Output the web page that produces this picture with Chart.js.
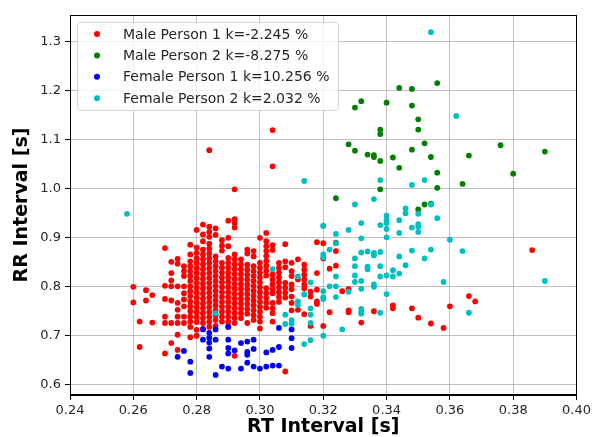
<!DOCTYPE html>
<html>
<head>
<meta charset="utf-8">
<script src="https://cdn.jsdelivr.net/npm/chart.js@4.4.1/dist/chart.umd.min.js"></script>
<style>
  html, body { margin: 0; padding: 0; background: #fff; }
</style>
</head>
<body>
<canvas id="scatterChart" width="594" height="437"></canvas>
<script>
// series labels / colours (matplotlib r, g, b, c)
const seriesLabels = ['Male Person 1 k=-2.245 %', 'Male Person 2 k=-8.275 %', 'Female Person 1 k=10.256 %', 'Female Person 2 k=2.032 %'];
const seriesColors = ['#ff0000', '#008000', '#0000ff', '#00bfbf'];

// axis ticks
const xTicks = [0.24, 0.26, 0.28, 0.30, 0.32, 0.34, 0.36, 0.38, 0.40];
const yTicks = [0.6, 0.7, 0.8, 0.9, 1.0, 1.1, 1.2, 1.3];

// Male person 1: RT column -> RR values
const maleP1Cols = [
  [0.260, [0.800, 0.768]],
  [0.262, [0.729, 0.677]],
  [0.264, [0.793, 0.772]],
  [0.266, [0.783, 0.727]],
  [0.270, [0.879, 0.802, 0.775, 0.739, 0.726, 0.664]],
  [0.272, [0.851, 0.828, 0.813, 0.801, 0.772, 0.726, 0.685]],
  [0.274, [0.857, 0.847, 0.801, 0.767, 0.753, 0.739, 0.726, 0.702, 0.671]],
  [0.276, [0.842, 0.832, 0.822, 0.801, 0.787, 0.774, 0.760, 0.739, 0.726]],
  [0.278, [0.886, 0.866, 0.852, 0.842, 0.832, 0.822, 0.812, 0.801, 0.791, 0.781, 0.770, 0.760, 0.750, 0.739, 0.729, 0.718, 0.697]],
  [0.280, [0.916, 0.880, 0.869, 0.858, 0.848, 0.838, 0.828, 0.818, 0.808, 0.798, 0.788, 0.778, 0.768, 0.758, 0.748, 0.738, 0.728, 0.712, 0.700]],
  [0.282, [0.927, 0.907, 0.893, 0.876, 0.866, 0.856, 0.846, 0.836, 0.826, 0.816, 0.806, 0.796, 0.786, 0.776, 0.766, 0.756, 0.746, 0.736, 0.726, 0.714]],
  [0.284, [1.079, 0.923, 0.912, 0.902, 0.888, 0.878, 0.868, 0.858, 0.848, 0.838, 0.828, 0.818, 0.808, 0.798, 0.788, 0.778, 0.768, 0.758, 0.748, 0.738, 0.728, 0.718]],
  [0.286, [0.919, 0.906, 0.862, 0.852, 0.842, 0.832, 0.822, 0.812, 0.802, 0.792, 0.782, 0.772, 0.762, 0.752, 0.742, 0.732, 0.720]],
  [0.288, [0.895, 0.884, 0.874, 0.849, 0.839, 0.829, 0.819, 0.809, 0.799, 0.789, 0.779, 0.769, 0.759, 0.749, 0.739, 0.729]],
  [0.290, [0.935, 0.900, 0.883, 0.859, 0.849, 0.839, 0.829, 0.819, 0.809, 0.799, 0.789, 0.779, 0.769, 0.759, 0.749, 0.739, 0.729, 0.719]],
  [0.292, [0.999, 0.938, 0.930, 0.921, 0.866, 0.856, 0.846, 0.836, 0.826, 0.816, 0.806, 0.796, 0.786, 0.776, 0.766, 0.756, 0.746, 0.736, 0.726, 0.659]],
  [0.294, [0.856, 0.846, 0.836, 0.826, 0.816, 0.806, 0.796, 0.786, 0.776, 0.766, 0.756, 0.746, 0.736]],
  [0.296, [0.876, 0.868, 0.845, 0.835, 0.825, 0.815, 0.805, 0.795, 0.785, 0.775, 0.765, 0.755, 0.745, 0.726]],
  [0.298, [0.873, 0.862, 0.842, 0.832, 0.822, 0.812, 0.802, 0.792, 0.782, 0.772, 0.762, 0.752, 0.742, 0.732]],
  [0.300, [0.900, 0.849, 0.839, 0.829, 0.819, 0.809, 0.799, 0.789, 0.779, 0.769, 0.759, 0.749, 0.739, 0.729, 0.715]],
  [0.302, [0.910, 0.893, 0.883, 0.873, 0.863, 0.853, 0.843, 0.833, 0.823, 0.797, 0.787, 0.777, 0.767, 0.757]],
  [0.304, [1.120, 1.046, 0.885, 0.875, 0.825, 0.815, 0.805, 0.795, 0.787, 0.767, 0.756, 0.746, 0.729]],
  [0.306, [0.849, 0.839, 0.829, 0.819, 0.809, 0.799, 0.789, 0.779, 0.769]],
  [0.308, [0.887, 0.852, 0.840, 0.808, 0.798, 0.788, 0.778, 0.627]],
  [0.310, [0.849, 0.832, 0.822, 0.805, 0.795, 0.780, 0.767, 0.752]],
  [0.312, [0.856, 0.815, 0.753]],
  [0.314, [0.845, 0.835, 0.825, 0.815, 0.805, 0.797, 0.744]],
  [0.316, [0.790, 0.780, 0.720]],
  [0.318, [0.891, 0.828, 0.794, 0.770, 0.765]],
  [0.320, [0.889, 0.858, 0.720]],
  [0.322, [0.837, 0.748]],
  [0.324, [0.890, 0.873, 0.843]],
  [0.326, [0.791]],
  [0.328, [0.795, 0.752, 0.748]],
  [0.332, [0.727]],
  [0.336, [0.750]],
  [0.342, [0.762, 0.756]],
  [0.348, [0.756]],
  [0.350, [0.737]],
  [0.354, [0.725]],
  [0.358, [0.716]],
  [0.360, [0.760]],
  [0.366, [0.781]],
  [0.368, [0.770]],
  [0.386, [0.875]]
];

// Male person 2: [RT, RR]
const maleP2 = [
  [0.356, 1.216], [0.344, 1.206], [0.348, 1.204], [0.332, 1.179], [0.330, 1.166],
  [0.340, 1.176], [0.348, 1.170], [0.350, 1.142], [0.350, 1.121], [0.338, 1.121],
  [0.338, 1.112], [0.328, 1.091], [0.330, 1.078], [0.334, 1.070], [0.336, 1.069],
  [0.336, 1.065], [0.338, 1.057], [0.342, 1.064], [0.348, 1.080], [0.352, 1.093],
  [0.354, 1.065], [0.344, 1.043], [0.356, 1.033], [0.356, 1.002], [0.338, 0.999],
  [0.364, 1.010], [0.366, 1.068], [0.376, 1.089], [0.390, 1.076], [0.380, 1.031],
  [0.324, 0.981], [0.352, 0.968], [0.354, 0.970], [0.350, 0.958]
];

// Female person 1: [RT, RR]
const femaleP1 = [
  [0.274, 0.657], [0.276, 0.669], [0.278, 0.647], [0.278, 0.624], [0.282, 0.713],
  [0.282, 0.692], [0.284, 0.706], [0.284, 0.696], [0.284, 0.686], [0.284, 0.674],
  [0.284, 0.657], [0.286, 0.713], [0.286, 0.692], [0.286, 0.620], [0.288, 0.637],
  [0.290, 0.718], [0.290, 0.692], [0.290, 0.675], [0.290, 0.664], [0.292, 0.670],
  [0.290, 0.633], [0.294, 0.633], [0.294, 0.685], [0.296, 0.688], [0.296, 0.667],
  [0.296, 0.661], [0.298, 0.692], [0.298, 0.673], [0.296, 0.645], [0.298, 0.637],
  [0.300, 0.633], [0.302, 0.666], [0.302, 0.637], [0.304, 0.671], [0.304, 0.639],
  [0.306, 0.677], [0.306, 0.639], [0.306, 0.716], [0.310, 0.713], [0.310, 0.695],
  [0.310, 0.675]
];

// Female person 2: [RT, RR]
const femaleP2 = [
  [0.354, 1.320], [0.362, 1.149], [0.314, 1.016], [0.338, 1.018], [0.348, 1.008],
  [0.352, 1.018], [0.330, 0.968], [0.336, 0.979], [0.354, 0.968], [0.346, 0.960],
  [0.346, 0.950], [0.350, 0.949], [0.356, 0.940], [0.340, 0.945], [0.340, 0.936],
  [0.340, 0.930], [0.340, 0.918], [0.344, 0.936], [0.332, 0.930], [0.338, 0.926],
  [0.320, 0.925], [0.350, 0.928], [0.350, 0.923], [0.348, 0.921], [0.350, 0.912],
  [0.344, 0.910], [0.328, 0.916], [0.324, 0.908], [0.332, 0.899], [0.340, 0.901],
  [0.360, 0.896], [0.324, 0.889], [0.322, 0.876], [0.332, 0.870], [0.334, 0.872],
  [0.336, 0.869], [0.336, 0.864], [0.338, 0.871], [0.348, 0.874], [0.354, 0.876],
  [0.364, 0.873], [0.320, 0.866], [0.320, 0.860], [0.330, 0.858], [0.344, 0.862],
  [0.352, 0.858], [0.330, 0.842], [0.334, 0.841], [0.334, 0.836], [0.338, 0.842],
  [0.346, 0.844], [0.342, 0.834], [0.342, 0.821], [0.344, 0.827], [0.340, 0.823],
  [0.338, 0.821], [0.324, 0.821], [0.330, 0.823], [0.330, 0.810], [0.332, 0.812],
  [0.332, 0.796], [0.336, 0.805], [0.336, 0.800], [0.358, 0.810], [0.390, 0.812],
  [0.316, 0.809], [0.322, 0.801], [0.324, 0.801], [0.328, 0.790], [0.320, 0.791],
  [0.320, 0.779], [0.320, 0.775], [0.314, 0.785], [0.324, 0.779], [0.340, 0.785],
  [0.316, 0.756], [0.316, 0.743], [0.332, 0.755], [0.332, 0.749], [0.332, 0.745],
  [0.338, 0.747], [0.316, 0.726], [0.326, 0.713], [0.320, 0.700], [0.316, 0.691],
  [0.314, 0.683], [0.366, 0.747], [0.312, 0.770], [0.258, 0.949], [0.304, 0.836],
  [0.312, 0.821], [0.320, 0.924], [0.286, 0.746], [0.308, 0.743], [0.308, 0.724],
  [0.310, 0.732], [0.310, 0.725], [0.312, 0.763], [0.314, 0.784]
];

const maleP1Points = [];
maleP1Cols.forEach(([rt, rrs]) => rrs.forEach(rr => maleP1Points.push({ x: rt, y: rr })));
const toPoints = arr => arr.map(([x, y]) => ({ x: x, y: y }));
const seriesData = [maleP1Points, toPoints(maleP2), toPoints(femaleP1), toPoints(femaleP2)];

// black box round the axes, like matplotlib spines
const frameBox = {
  id: 'frameBox',
  afterDatasetsDraw(chart) {
    const { ctx, chartArea: a } = chart;
    ctx.save();
    ctx.strokeStyle = '#000';
    ctx.lineWidth = 1;
    ctx.strokeRect(Math.round(a.left) + 0.5, Math.round(a.top) + 0.5,
      Math.round(a.right - a.left) - 1, Math.round(a.bottom - a.top) - 1);
    ctx.restore();
  }
};

// legend box in the upper left corner of the axes
const legendBox = {
  id: 'legendBox',
  afterDraw(chart) {
    const { ctx, chartArea: a } = chart;
    const x = a.left + 7, y = a.top + 7, w = 261, h = 88;
    ctx.save();
    ctx.beginPath();
    ctx.roundRect(x + 0.5, y + 0.5, w, h, 3);
    ctx.fillStyle = 'rgba(255,255,255,0.8)';
    ctx.fill();
    ctx.strokeStyle = '#d6d6d6';
    ctx.lineWidth = 1;
    ctx.stroke();
    ctx.font = '14px "DejaVu Sans"';
    ctx.textBaseline = 'middle';
    seriesLabels.forEach((label, i) => {
      const rowY = y + 12 + i * 21.4;
      ctx.beginPath();
      ctx.arc(x + 20, rowY, 3, 0, Math.PI * 2);
      ctx.fillStyle = seriesColors[i];
      ctx.fill();
      ctx.fillStyle = '#262626';
      ctx.fillText(label, x + 46, rowY + 1);
    });
    ctx.restore();
  }
};

new Chart(document.getElementById('scatterChart').getContext('2d'), {
  type: 'scatter',
  data: {
    datasets: seriesData.map((pts, i) => ({
      label: seriesLabels[i],
      data: pts,
      pointRadius: 2.9,
      pointHoverRadius: 2.9,
      pointBorderWidth: 0,
      pointBackgroundColor: seriesColors[i],
      backgroundColor: seriesColors[i],
      order: 4 - i
    }))
  },
  options: {
    responsive: false,
    animation: false,
    layout: { padding: { left: 0, right: 17, top: 15, bottom: 0 } },
    scales: {
      x: {
        type: 'linear',
        min: 0.24,
        max: 0.40,
        afterBuildTicks: axis => { axis.ticks = xTicks.map(v => ({ value: v })); },
        afterFit: scale => { scale.height = 42; },
        ticks: {
          color: '#262626',
          padding: 3,
          font: { family: 'DejaVu Sans', size: 13 },
          callback: v => v.toFixed(2)
        },
        grid: { color: '#b0b0b0', lineWidth: 0.8, tickColor: '#000', tickLength: 5, tickWidth: 1 },
        border: { color: '#000', width: 1 },
        title: {
          display: true,
          text: 'RT Interval [s]',
          color: '#000',
          font: { family: 'DejaVu Sans', size: 19, weight: 'bold', lineHeight: 1 },
          padding: { top: 0, bottom: 0 }
        }
      },
      y: {
        type: 'linear',
        min: 0.579,
        max: 1.355,
        afterBuildTicks: axis => { axis.ticks = yTicks.map(v => ({ value: v })); },
        afterFit: scale => { scale.width = 70; },
        ticks: {
          color: '#262626',
          padding: 4,
          font: { family: 'DejaVu Sans', size: 13 },
          callback: v => v.toFixed(1)
        },
        grid: { color: '#b0b0b0', lineWidth: 0.8, tickColor: '#000', tickLength: 5, tickWidth: 1 },
        border: { color: '#000', width: 1 },
        title: {
          display: true,
          text: 'RR Interval [s]',
          color: '#000',
          font: { family: 'DejaVu Sans', size: 19, weight: 'bold', lineHeight: 1 },
          padding: { top: 13, bottom: 0 }
        }
      }
    },
    plugins: {
      legend: { display: false },
      tooltip: { enabled: false }
    }
  },
  plugins: [frameBox, legendBox]
});
</script>
</body>
</html>
